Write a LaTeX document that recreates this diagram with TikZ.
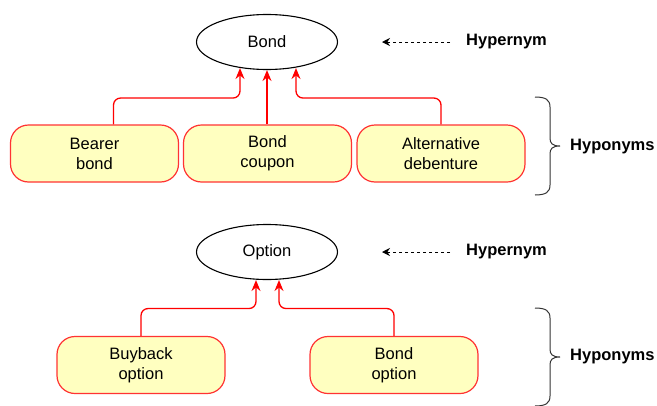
\documentclass[tikz,border=0pt]{standalone}
\usepackage{fontspec}
\setmainfont{Liberation Sans}
\usetikzlibrary{shapes.geometric,arrows.meta,calc}
\definecolor{boxfill}{HTML}{FFFFC0}
\definecolor{boxline}{HTML}{FF3333}
\begin{document}
\begin{tikzpicture}[x=1pt,y=-1pt,
  every node/.style={font=\fontsize{16.5}{20}\selectfont},
  hyper/.style={ellipse,draw=black,line width=1.1pt,minimum width=141pt,minimum height=55pt,inner sep=0pt,fill=white},
  hypo/.style={rectangle,rounded corners=18pt,draw=boxline,fill=boxfill,line width=1.2pt,minimum width=168pt,minimum height=57pt,align=center,inner sep=0pt},
  conn/.style={draw=red,line width=1.3pt,rounded corners=7pt,-{Stealth[length=11pt,width=9pt]}},
  lab/.style={font=\fontsize{16.5}{20}\selectfont\bfseries,anchor=west,inner sep=0pt},
  pointer/.style={dash pattern=on 3pt off 3pt,line width=1pt,-{Stealth[length=8pt,width=8pt]}},
  bracestyle/.style={line width=1pt,draw=black!80},
  curly/.pic={\draw[bracestyle] (0,0) .. controls (11,0) and (15,3) .. (15,10) -- (15,41) .. controls (15,46) and (17,49) .. (25,49) .. controls (17,49) and (15,52) .. (15,57) -- (15,88) .. controls (15,95) and (11,98) .. (0,98);}
]
\useasboundingbox (0,0) rectangle (657,405);
\clip (0,0) rectangle (657,405);

% top group
\node[hyper] (bond) at (267,42) {Bond};
\node[hypo] (bearer) at (94.5,153.5) {Bearer\\bond};
\node[hypo] (coupon) at (267.5,153.5) {Bond\\coupon};
\node[hypo] (alt) at (441,153.5) {Alternative\\debenture};

\draw[conn] ($(bearer.north)+(19,0)$) |- ($(bond.south)+(-27,28)$) -- ($(bond.south)+(-27,-2)$);
\draw[conn,rounded corners=0pt] ($(coupon.north)+(-0.5,0)$) -- (bond.south);
\draw[conn] (alt.north) |- ($(bond.south)+(29,28)$) -- ($(bond.south)+(29,-2)$);

\node[lab] (h1) at (466,42) {Hypernym};
\coordinate (p1) at (382,42);
\draw[pointer] ($(h1.west)+(-16,0)$) -- (p1);
\node[lab] (hy1) at (570,147) {Hyponyms};
\pic at (535,97) {curly};

% bottom group
\node[hyper] (option) at (267,252) {Option};
\node[hypo] (buyback) at (141,365) {Buyback\\option};
\node[hypo] (bopt) at (394,365) {Bond\\option};

\draw[conn] (buyback.north) |- ($(option.south)+(-11,28.5)$) -- ($(option.south)+(-11,0)$);
\draw[conn] (bopt.north) |- ($(option.south)+(12,28.5)$) -- ($(option.south)+(12,0)$);

\node[lab] (h2) at (466,252) {Hypernym};
\coordinate (p2) at (382,252);
\draw[pointer] ($(h2.west)+(-16,0)$) -- (p2);
\node[lab] (hy2) at (570,357) {Hyponyms};
\pic at (535,308) {curly};
\end{tikzpicture}
\end{document}
